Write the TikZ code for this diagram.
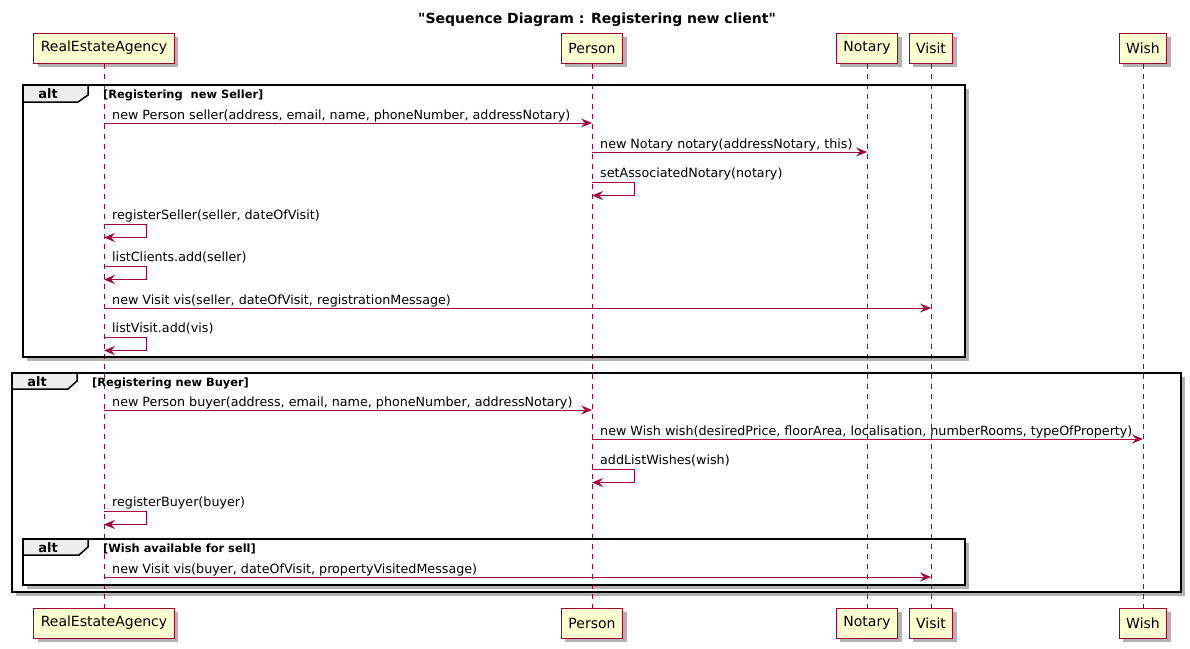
\documentclass[tikz,border=0pt]{standalone}
\usepackage{fontspec}
\setmainfont{DejaVu Sans}
\newfontfamily\plainfont{DejaVu Sans}
\usetikzlibrary{arrows.meta,shadows}
\definecolor{plred}{HTML}{A80036}
\definecolor{plfill}{HTML}{FEFECE}
\definecolor{tabgray}{HTML}{EEEEEE}
\tikzset{
  part/.style={draw=plred, line width=1pt, fill=plfill, minimum height=30pt, inner xsep=7pt,
    font=\fontsize{14}{16}\selectfont,
    drop shadow={shadow xshift=4pt, shadow yshift=-4pt, opacity=0.3, fill=black}},
  lifeline/.style={draw=plred, dash pattern=on 5pt off 5pt, line width=0.8pt},
  msg/.style={draw=plred, line width=1pt, -{Stealth[length=11pt,width=9pt,inset=4pt]}},
  msgtext/.style={anchor=base west, inner sep=0pt, font=\fontsize{12.7}{15}\selectfont},
  framebox/.style={draw=black, line width=1.5pt, fill=white,
    drop shadow={shadow xshift=4pt, shadow yshift=-4pt, opacity=0.3, fill=black}},
  framebare/.style={draw=black, line width=1.5pt},
  tab/.style={draw=black, line width=1.5pt, fill=tabgray},
  guard/.style={anchor=base west, inner sep=0pt, font=\bfseries\fontsize{11.4}{14}\selectfont},
  alttext/.style={anchor=base, inner sep=0pt, font=\bfseries\fontsize{13}{15}\selectfont},
  titletext/.style={anchor=base, inner sep=0pt, font=\plainfont\bfseries\fontsize{14}{16}\selectfont}
}
\begin{document}
\begin{tikzpicture}[x=1pt,y=-1pt]
\useasboundingbox (0,0) rectangle (1190,648);
\fill[white] (0,0) rectangle (1190,648);

\node[titletext] (title) at (597,23) {"Sequence Diagram : Registering new client"};

% participants
\node[part] (tA) at (104,48) {RealEstateAgency};
\node[part] (tP) at (592,48) {Person};
\node[part] (tN) at (867,48) {Notary};
\node[part] (tV) at (931,48) {Visit};
\node[part] (tW) at (1143,48) {Wish};
\node[part] (bA) at (104,623) {RealEstateAgency};
\node[part] (bP) at (592,623) {Person};
\node[part] (bN) at (867,623) {Notary};
\node[part] (bV) at (931,623) {Visit};
\node[part] (bW) at (1143,623) {Wish};

% frames (backgrounds)
\path[framebox] (23,85) rectangle (965,357);
\path[framebox] (12,373) rectangle (1181,592);
\path[framebox] (23,539) rectangle (965,585);

% lifelines
\draw[lifeline] (tA.south) -- (bA.north);
\draw[lifeline] (tP.south) -- (bP.north);
\draw[lifeline] (tN.south) -- (bN.north);
\draw[lifeline] (tV.south) -- (bV.north);
\draw[lifeline] (tW.south) -- (bW.north);

% frame borders and tabs
\draw[framebare] (23,85) rectangle (965,357);
\draw[tab] (23,85) -- (88,85) -- (88,95) -- (78,102) -- (23,102) -- cycle;
\node[alttext] (alt1) at (48,98) {alt};
\node[guard] (g1) at (103,98) {[Registering\ \ new Seller]};

\draw[framebare] (12,373) rectangle (1181,592);
\draw[tab] (12,373) -- (77,373) -- (77,381) -- (68,389) -- (12,389) -- cycle;
\node[alttext] (alt2) at (37,386) {alt};
\node[guard] (g2) at (92,386) {[Registering new Buyer]};

\draw[framebare] (23,539) rectangle (965,585);
\draw[tab] (23,539) -- (88,539) -- (88,547) -- (79,555) -- (23,555) -- cycle;
\node[alttext] (alt3) at (48,552) {alt};
\node[guard] (g3) at (103,552) {[Wish available for sell]};

% messages, first frame
\draw[msg] (tA |- 0,123) -- (tP |- 0,123);
\node[msgtext] (m1) at (112,119) {new Person seller(address, email, name, phoneNumber, addressNotary)};

\draw[msg] (tP |- 0,152) -- (tN |- 0,152);
\node[msgtext] (m2) at (600,148) {new Notary notary(addressNotary, this)};

\draw[msg] (tP |- 0,182) -- ++(42,0) -- ++(0,13.5) -- (tP |- 0,195.5);
\node[msgtext] (m3) at (600,177) {setAssociatedNotary(notary)};

\draw[msg] (tA |- 0,224) -- ++(42,0) -- ++(0,13.5) -- (tA |- 0,237.5);
\node[msgtext] (m4) at (112,219) {registerSeller(seller, dateOfVisit)};

\draw[msg] (tA |- 0,266) -- ++(42,0) -- ++(0,13.5) -- (tA |- 0,279.5);
\node[msgtext] (m5) at (112,261) {listClients.add(seller)};

\draw[msg] (tA |- 0,308) -- (tV |- 0,308);
\node[msgtext] (m6) at (112,304) {new Visit vis(seller, dateOfVisit, registrationMessage)};

\draw[msg] (tA |- 0,337) -- ++(42,0) -- ++(0,13.5) -- (tA |- 0,350.5);
\node[msgtext] (m7) at (112,332) {listVisit.add(vis)};

% messages, second frame
\draw[msg] (tA |- 0,410) -- (tP |- 0,410);
\node[msgtext] (m8) at (112,406) {new Person buyer(address, email, name, phoneNumber, addressNotary)};

\draw[msg] (tP |- 0,439) -- (tW |- 0,439);
\node[msgtext] (m9) at (600,435) {new Wish wish(desiredPrice, floorArea, localisation, numberRooms, typeOfProperty)};

\draw[msg] (tP |- 0,469) -- ++(42,0) -- ++(0,13.5) -- (tP |- 0,482.5);
\node[msgtext] (m10) at (600,464) {addListWishes(wish)};

\draw[msg] (tA |- 0,511) -- ++(42,0) -- ++(0,13.5) -- (tA |- 0,524.5);
\node[msgtext] (m11) at (112,506) {registerBuyer(buyer)};

\draw[msg] (tA |- 0,577) -- (tV |- 0,577);
\node[msgtext] (m12) at (112,573) {new Visit vis(buyer, dateOfVisit, propertyVisitedMessage)};
\end{tikzpicture}
\end{document}
